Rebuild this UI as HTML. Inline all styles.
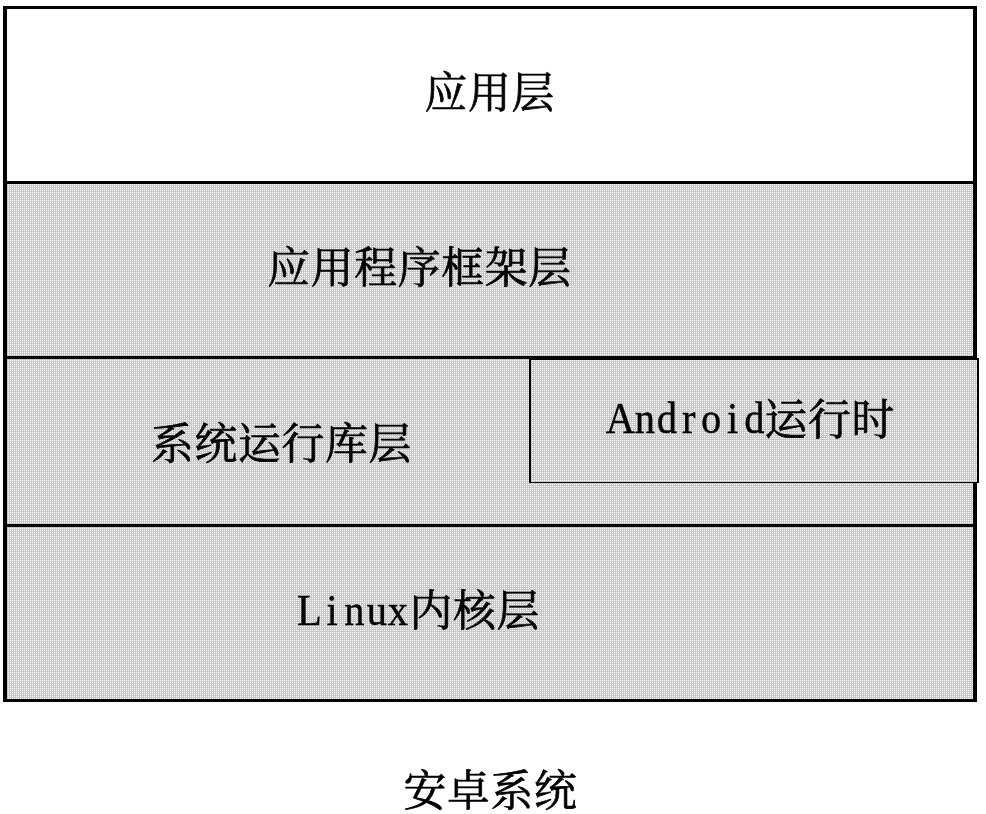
<!DOCTYPE html>
<html lang="zh-CN">
<head>
<meta charset="utf-8">
<title>安卓系统</title>
<style>
html,body{margin:0;padding:0;background:#fff;}
body{width:986px;height:814px;overflow:hidden;position:relative;}
svg{position:absolute;left:0;top:0;display:block;will-change:transform;}
text{font-family:"Liberation Serif","Noto Serif CJK SC",serif;font-size:42.8px;letter-spacing:0.7px;fill:#000;stroke:#000;stroke-width:0.7px;stroke-linejoin:round;}
text .l{letter-spacing:0;stroke-width:0.4px;}
</style>
</head>
<body>
<svg width="986" height="814" viewBox="0 0 986 814" shape-rendering="crispEdges">
  <defs>
    <pattern id="dots" x="0" y="0" width="2" height="2" patternUnits="userSpaceOnUse">
      <rect x="0" y="0" width="2" height="2" fill="#c8c8c8"/>
      <rect x="0" y="0" width="1" height="1" fill="#ffffff"/>
    </pattern>
  </defs>
  <rect x="0" y="0" width="986" height="814" fill="#ffffff"/>
  <!-- shaded layers -->
  <rect x="7" y="184" width="966" height="515" fill="url(#dots)"/>
  <!-- outer frame -->
  <rect x="3" y="6" width="4" height="696" fill="#000"/>
  <rect x="973" y="6" width="4" height="696" fill="#000"/>
  <rect x="3" y="6" width="974" height="3" fill="#000"/>
  <rect x="3" y="699" width="974" height="3" fill="#000"/>
  <!-- separators -->
  <rect x="3" y="181" width="974" height="3" fill="#000"/>
  <rect x="3" y="356" width="974" height="3" fill="#000"/>
  <rect x="3" y="524" width="974" height="3" fill="#000"/>
  <!-- Android runtime box -->
  <rect x="531" y="360" width="446" height="122" fill="url(#dots)"/>
  <rect x="529" y="358" width="450" height="2" fill="#000"/>
  <rect x="529" y="356" width="2" height="127" fill="#000"/>
  <rect x="977" y="358" width="2" height="125" fill="#000"/>
  <rect x="529" y="482" width="450" height="1" fill="#000"/>
  <!-- labels -->
  <g shape-rendering="auto">
    <text x="424.5" y="108.4">应用层</text>
    <text x="267.2" y="283.4">应用程序框架层</text>
    <text x="151.0" y="458.7">系统运行库层</text>
    <text y="432.8"><tspan class="l" x="605.7 634.8 656.8 682.0 701.0 727.0 744.2" font-size="44.0" textLength="134.92" lengthAdjust="spacingAndGlyphs">Android</tspan><tspan x="764.5" y="434.5">运行时</tspan></text>
    <text y="624.8"><tspan class="l" x="297.1 326.5 344.3 366.7 387.7" font-size="44.0" textLength="96.69" lengthAdjust="spacingAndGlyphs">Linux</tspan><tspan x="409.6" y="625.6">内核层</tspan></text>
    <text x="403.4" y="805.5">安卓系统</text>
  </g>
</svg>
</body>
</html>
